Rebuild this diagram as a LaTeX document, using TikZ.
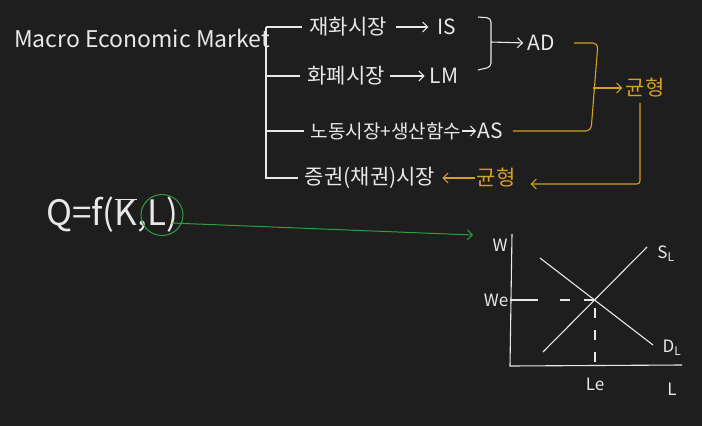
\documentclass[tikz,border=0pt]{standalone}
\usepackage{fontspec}
\setmainfont{Noto Sans CJK KR}
\usepackage{tikz}
\usetikzlibrary{arrows.meta,shapes.geometric}
\definecolor{board}{RGB}{30,30,30}
\definecolor{chalk}{RGB}{232,232,232}
\definecolor{amber}{RGB}{212,160,34}
\definecolor{leaf}{RGB}{46,160,62}

\tikzset{
  hand/.style={text=chalk, inner sep=1pt, font=\fontsize{21}{24}\selectfont},
  big/.style={hand, font=\fontsize{23}{27}\selectfont},
  small/.style={hand, font=\fontsize{17}{20}\selectfont},
  pen/.style={draw=chalk, line width=1.1pt},
  amberpen/.style={draw=amber, line width=1.1pt},
  >={Straight Barb[length=5pt,width=10pt]}
}

\begin{document}
\begin{tikzpicture}[x=1pt,y=-1pt]
  \fill[board] (0,0) rectangle (702,426);
  \useasboundingbox (0,0) rectangle (702,426);

  % markets
  \node[big] (market) at (142,38) {Macro Economic Market};
  \node[hand] (goods) at (348,27) {재화시장};
  \node[hand] (IS) at (447,27) {IS};
  \node[hand] (money) at (346,76) {화폐시장};
  \node[hand] (LM) at (444,76) {LM};
  \node[hand, font=\fontsize{19}{22}\selectfont] (labor) at (386,131) {노동시장+생산함수};
  \node[hand] (AS) at (490,131) {AS};
  \node[hand] (securities) at (370,178) {증권(채권)시장};
  \node[hand] (AD) at (541,43) {AD};
  \node[hand, text=amber] (eq1) at (645,88) {균형};
  \node[hand, text=amber] (eq2) at (496,178) {균형};

  \coordinate (trunk) at (266,27);
  \draw[pen, shorten >=6pt] (trunk) |- (goods.west);
  \draw[pen, shorten >=6pt] (trunk) |- (money.west);
  \draw[pen, shorten >=6pt] (trunk) |- (labor.west);
  \draw[pen, shorten >=6pt] (trunk) |- (securities.west);

  \draw[pen, ->, shorten <=8pt, shorten >=8pt] (goods) -- (IS);
  \draw[pen, ->, shorten <=4pt, shorten >=4pt] (money) -- (LM);
  \draw[pen, ->] (labor) -- (AS);

  % AD side
  \draw[pen, rounded corners=4pt] (478,17) -- (491,18) -- (491,67) -- (478,70);
  \coordinate (brace) at (491,42);
  \draw[pen, ->, shorten >=3pt] (brace) -- (AD.west);

  % equilibrium
  \draw[amberpen, rounded corners=5pt] ([xshift=9pt]AS.east) -- (591,131) -- (598,43) -- ([xshift=18pt]AD.east);
  \coordinate (join) at (593,88);
  \draw[amberpen, ->, shorten >=2pt] (join) -- (eq1.west);
  \draw[amberpen, ->, rounded corners=3pt, shorten <=4pt] ([xshift=-5pt]eq1.south) |- ([xshift=14pt,yshift=-6pt]eq2.east);
  \draw[amberpen, ->, shorten >=6pt] (eq2.west) -- (securities.east);

  % production
  \node[big, font=\fontsize{35}{40}\selectfont] (prod) at (112,215) {Q=f($\overline{\mbox{K}}$,L)};
  \node[draw=leaf, line width=1pt, ellipse, minimum width=42pt, minimum height=41pt] (Lring) at (162,215) {};
  \coordinate (gtip) at (473,235);
  \draw[leaf, line width=1pt, ->] ([shift={(10,8)}]Lring.center) -- (gtip);

  % labour market graph
  \coordinate (O) at (510,366);
  \coordinate (ytop) at (512,234);
  \coordinate (xend) at (682,365);
  \coordinate (X) at (595,300);
  \draw[pen] (ytop) -- (O) -- (xend);
  \coordinate (weq) at (O |- X);
  \draw[pen] (weq) -- ++(28,0) coordinate (tickend);
  \draw[pen, dash pattern=on 10pt off 14pt] ([xshift=22pt]tickend) -- (X);
  \draw[pen, dash pattern=on 10pt off 12pt] ([yshift=-8pt]X) -- (X |- O);
  \coordinate (sl0) at (543,352);
  \coordinate (sl1) at (647,247);
  \coordinate (dl0) at (540,258);
  \coordinate (dl1) at (653,345);
  \draw[pen] (sl0) -- (sl1);
  \draw[pen] (dl0) -- (dl1);

  \node[small] (W) at (500,245) {W};
  \node[small] (We) at (496,300) {We};
  \node[small] (SL) at (666,254) {S\textsubscript{L}};
  \node[small] (DL) at (672,348) {D\textsubscript{L}};
  \node[small] (Le) at (595,384) {Le};
  \node[small] (Lax) at (672,389) {L};
\end{tikzpicture}
\end{document}
